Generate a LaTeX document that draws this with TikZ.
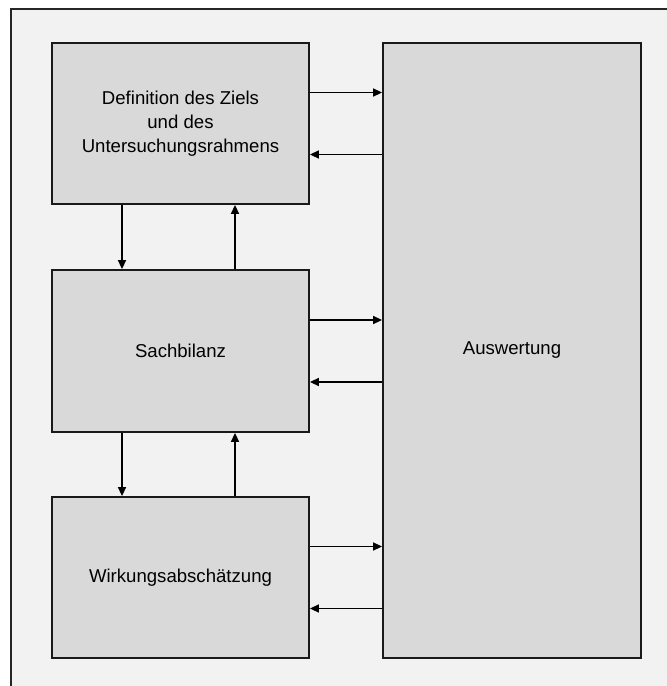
\documentclass[tikz,border=0pt]{standalone}
\usepackage{fontspec}
\setmainfont{Liberation Sans}
\usetikzlibrary{arrows.meta}
\definecolor{panel}{HTML}{F2F2F2}
\definecolor{boxfill}{HTML}{D9D9D9}
\begin{document}
\begin{tikzpicture}[x=1pt,y=-1pt,
  phase/.style={draw=black!90,line width=1.8pt,fill=boxfill,inner sep=0pt,
    align=center,font=\fontsize{18.6}{24}\selectfont},
  arr/.style={line width=1.5pt,-{Triangle[length=9pt,width=8pt]}}]
  \useasboundingbox (0,0) rectangle (667,686);
  \clip (0,0) rectangle (667,686);
  % outer panel
  \fill[white] (0,0) rectangle (667,686);
  \draw[fill=panel,line width=1.5pt,draw=black!85] (11,9) rectangle (690,710);
  % phases of the assessment
  \node[phase,minimum width=257pt,minimum height=161pt] (def) at (180.5,123.5)
    {Definition des Ziels\\und des\\Untersuchungsrahmens};
  \node[phase,minimum width=257pt,minimum height=162pt] (sach) at (180.5,351) {Sachbilanz};
  \node[phase,minimum width=257pt,minimum height=161pt] (wirk) at (180.5,577.5) {Wirkungsabschätzung};
  \node[phase,minimum width=258pt,minimum height=615pt] (ausw) at (512,350.5) {Auswertung};
  % links to the evaluation
  \foreach \n in {def,sach,wirk}{
    \draw[arr] ([yshift=31pt]\n.east) -- ([yshift=31pt]\n.east -| ausw.west);
    \draw[arr] ([yshift=-31pt]\n.east -| ausw.west) -- ([yshift=-31pt]\n.east);
  }
  % links between the phases
  \draw[arr] ([xshift=-58.5pt]def.south) -- ([xshift=-58.5pt]sach.north);
  \draw[arr] ([xshift=54.5pt]sach.north) -- ([xshift=54.5pt]def.south);
  \draw[arr] ([xshift=-58.5pt]sach.south) -- ([xshift=-58.5pt]wirk.north);
  \draw[arr] ([xshift=54.5pt]wirk.north) -- ([xshift=54.5pt]sach.south);
\end{tikzpicture}
\end{document}
